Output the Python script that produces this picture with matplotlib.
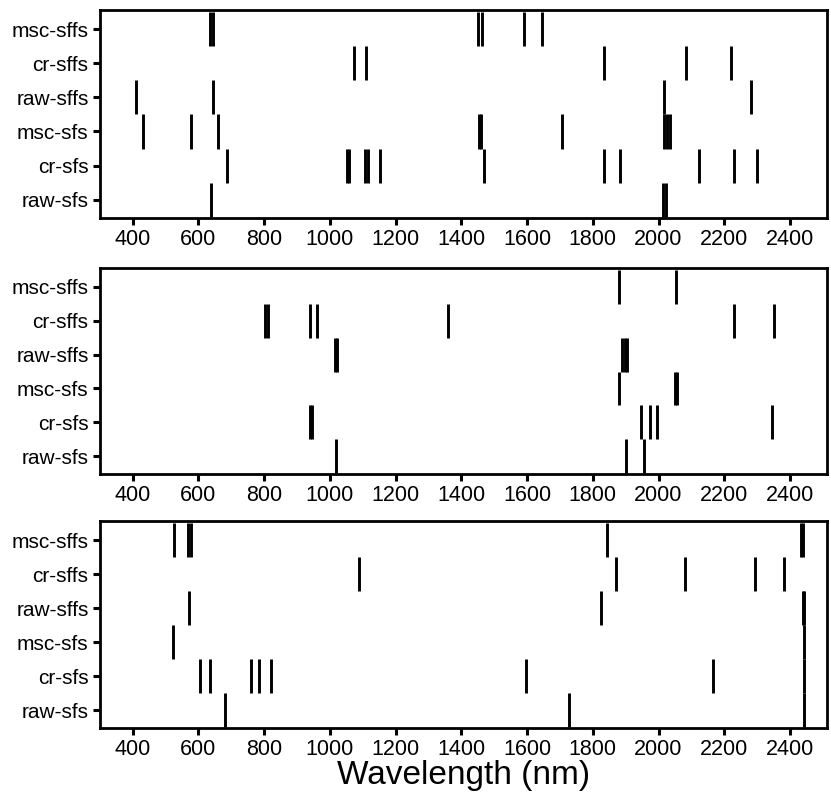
import matplotlib
matplotlib.use('Agg')
import matplotlib.pyplot as plt

# Kategorien (von unten nach oben)
categories = ['raw-sfs', 'cr-sfs', 'msc-sfs', 'raw-sffs', 'cr-sffs', 'msc-sffs']
xticks = [400, 600, 800, 1000, 1200, 1400, 1600, 1800, 2000, 2200, 2400]

# Panel 1 - ausgewaehlte Wellenlaengen (nm)
p1_raw_sfs = [640, 2015, 2022]
p1_cr_sfs = [688, 1052, 1058, 1108, 1116, 1154, 1468, 1835, 1882, 2124, 2230, 2299]
p1_msc_sfs = [431, 577, 660, 1453, 1460, 1707, 2018, 2025, 2035]
p1_raw_sffs = [411, 644, 2016, 2282]
p1_cr_sffs = [1073, 1109, 1835, 2085, 2220]
p1_msc_sffs = [637, 644, 1451, 1463, 1590, 1644]

# Panel 2
p2_raw_sfs = [1020, 1900, 1955]
p2_cr_sfs = [939, 946, 1948, 1974, 1996, 2346]
p2_msc_sfs = [1880, 2050, 2056]
p2_raw_sffs = [1015, 1022, 1890, 1897, 1905]
p2_cr_sffs = [803, 812, 939, 962, 1358, 2230, 2352]
p2_msc_sffs = [1880, 2052]

# Panel 3
p3_raw_sfs = [681, 1728, 2444]
p3_cr_sfs = [604, 635, 761, 786, 822, 1598, 2167, 2444]
p3_msc_sfs = [522, 2441]
p3_raw_sffs = [571, 1825, 2438, 2444]
p3_cr_sffs = [1088, 1871, 2081, 2292, 2382]
p3_msc_sffs = [527, 570, 578, 1843, 2432, 2440]

panels = [
    [p1_raw_sfs, p1_cr_sfs, p1_msc_sfs, p1_raw_sffs, p1_cr_sffs, p1_msc_sffs],
    [p2_raw_sfs, p2_cr_sfs, p2_msc_sfs, p2_raw_sffs, p2_cr_sffs, p2_msc_sffs],
    [p3_raw_sfs, p3_cr_sfs, p3_msc_sfs, p3_raw_sffs, p3_cr_sffs, p3_msc_sffs],
]

plt.rcParams['font.family'] = ['Liberation Sans', 'DejaVu Sans']

fig = plt.figure(figsize=(8.31, 8.01), dpi=100)
# Achsenpositionen [links, unten, breite, hoehe]
boxes = [
    [0.120, 0.728, 0.875, 0.260],
    [0.120, 0.408, 0.875, 0.258],
    [0.120, 0.091, 0.875, 0.259],
]

for box, rows in zip(boxes, panels):
    ax = fig.add_axes(box)
    for i, wl in enumerate(rows):
        y = i + 1
        ax.vlines(wl, y - 0.5, y + 0.5, color='black', linewidth=2.1)
    ax.set_xlim(300, 2512)
    ax.set_ylim(0.47, 6.57)
    ax.set_yticks(range(1, len(categories) + 1))
    ax.set_yticklabels(categories, fontsize=15)
    ax.set_xticks(xticks)
    ax.set_xticklabels([str(t) for t in xticks], fontsize=15.5)
    ax.tick_params(axis='both', length=5, width=2.2, color='black', pad=3)
    for s in ax.spines.values():
        s.set_linewidth(2)

ax.set_xlabel('Wavelength (nm)', fontsize=24, labelpad=0)

plt.savefig('out.png', dpi=100)
